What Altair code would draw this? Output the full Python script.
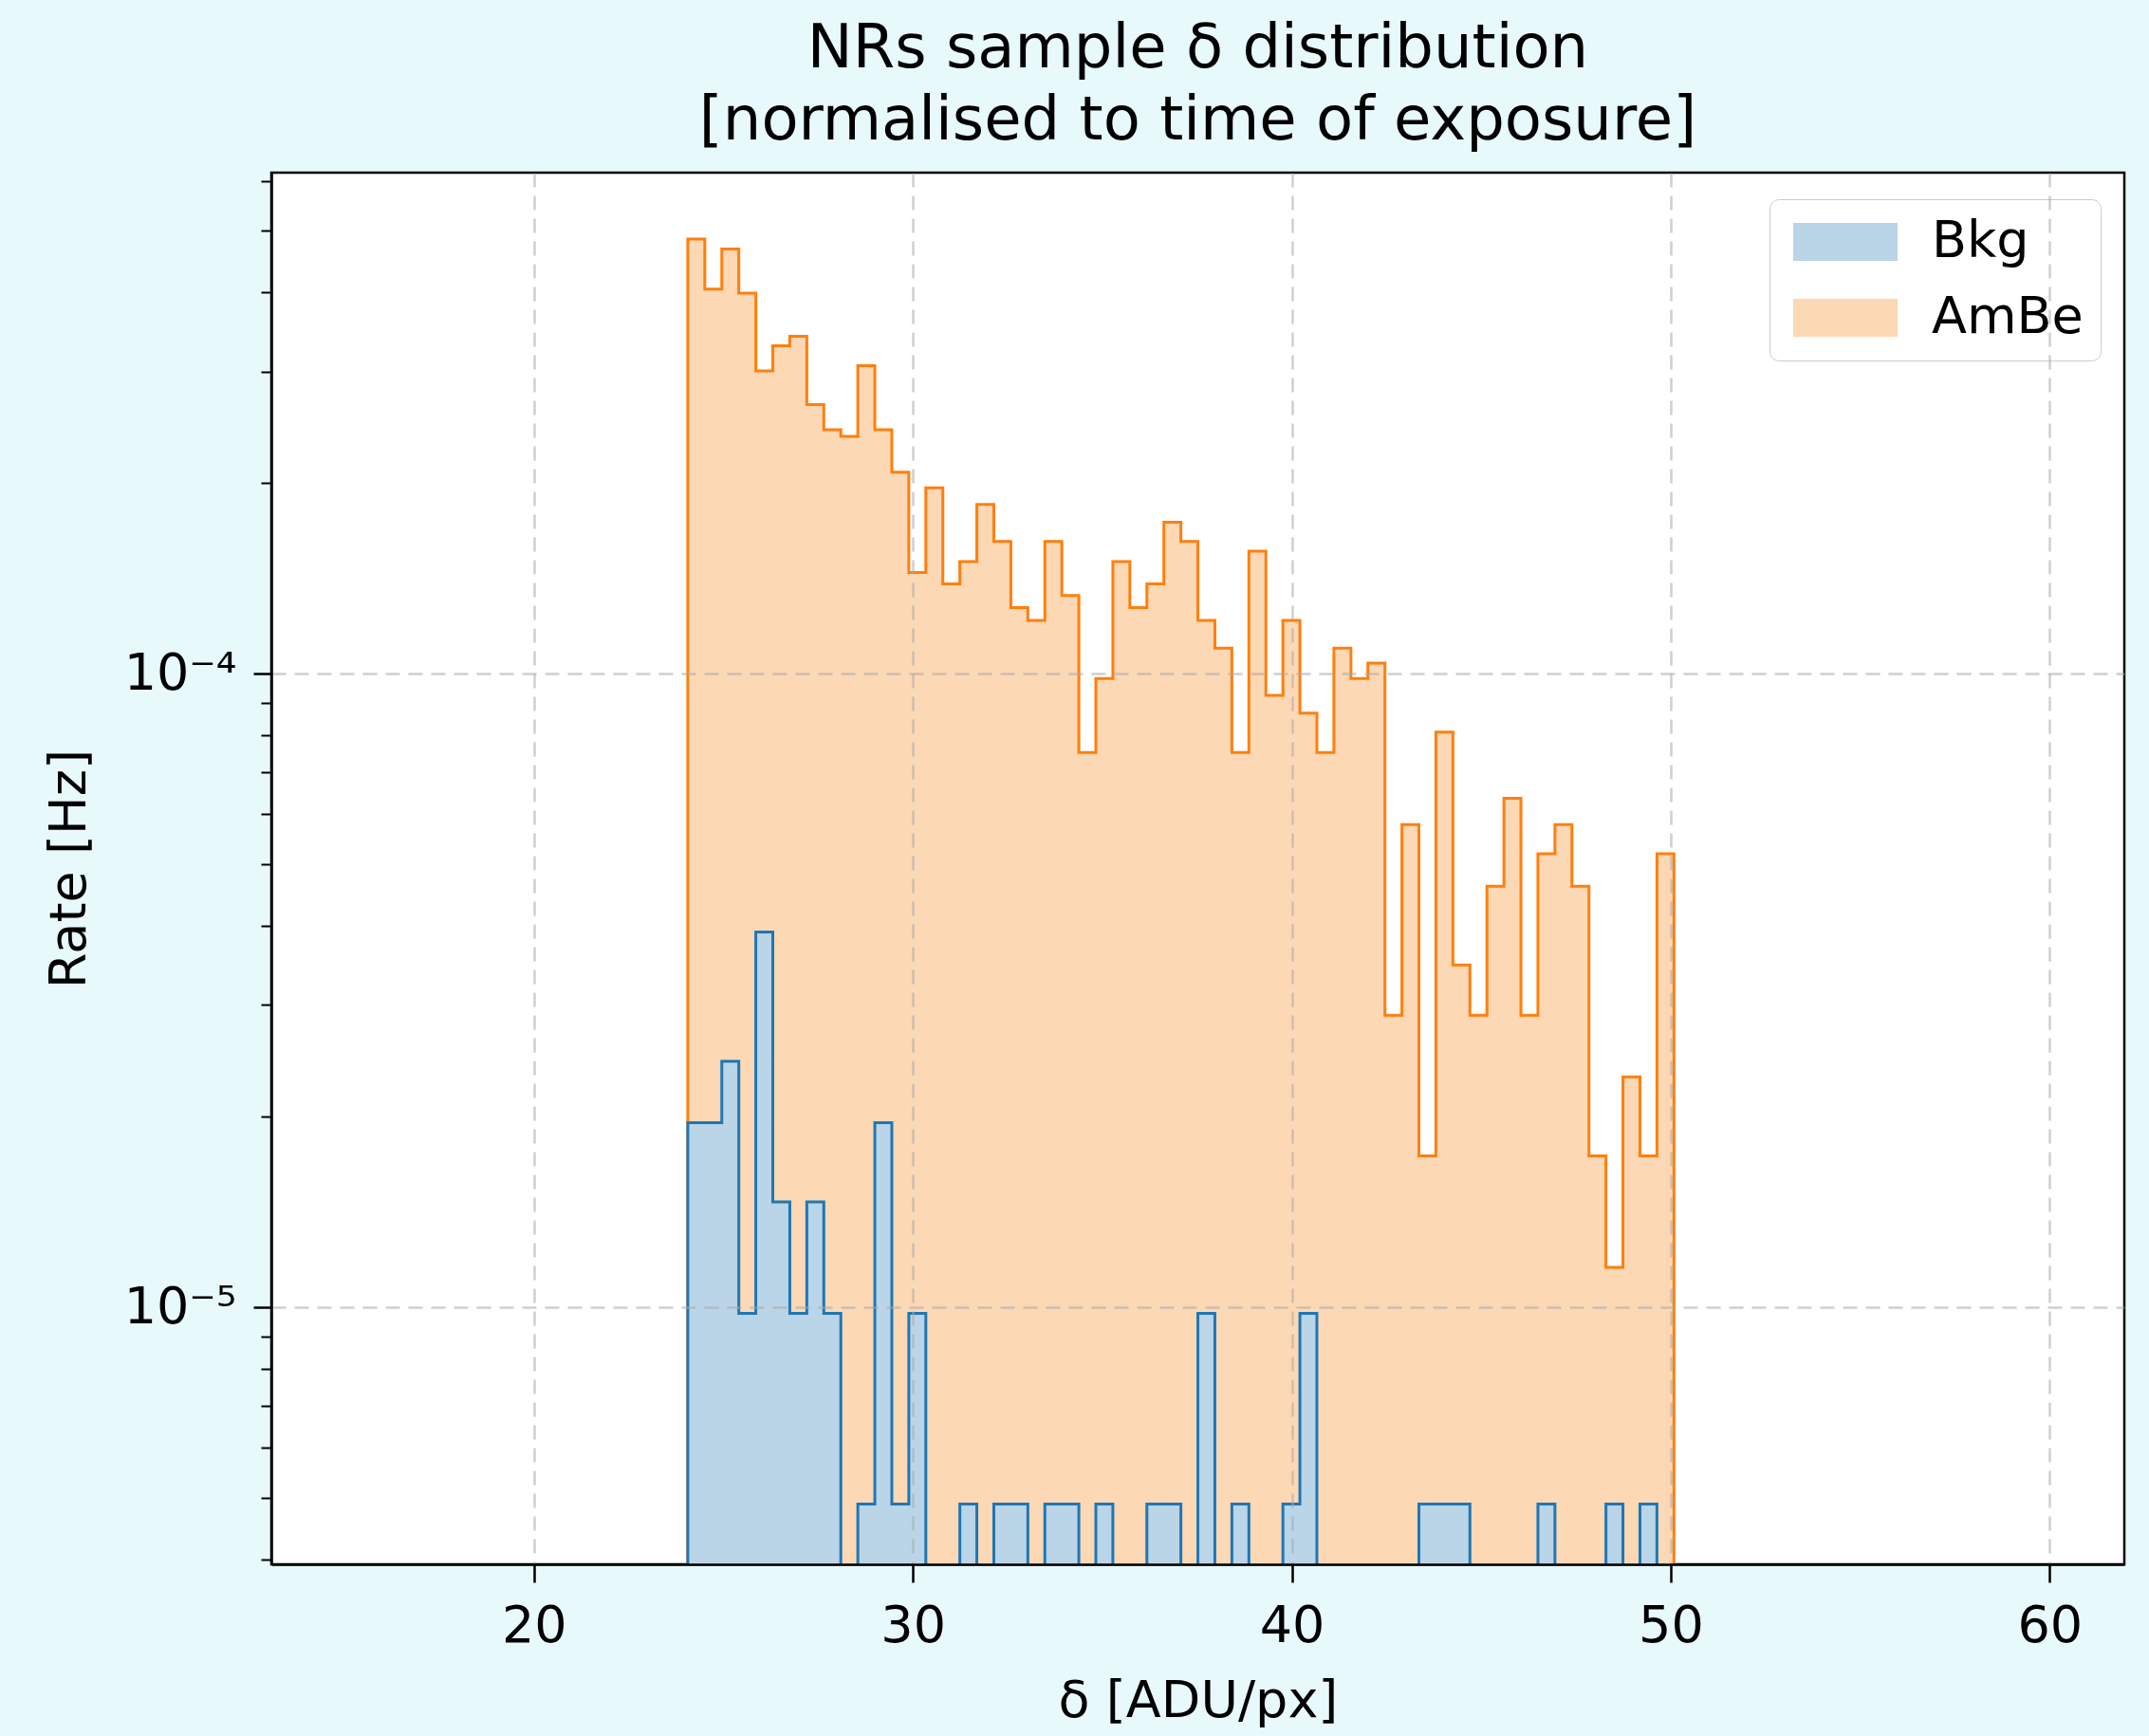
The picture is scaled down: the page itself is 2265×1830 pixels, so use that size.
import altair as alt
import numpy as np
import pandas as pd

# ---------------- data ----------------
TITLE = ["NRs sample δ distribution", "[normalised to time of exposure]"]
X_TITLE = "δ [ADU/px]"
Y_TITLE = "Rate [Hz]"
SERIES = ["Bkg", "AmBe"]

BIN_START = 24.06
BIN_WIDTH = 0.4487
N_BINS = 58

AMBE_RATE = [
    4.855e-4, 4.046e-4, 4.682e-4, 3.988e-4, 3.006e-4, 3.295e-4, 3.410e-4, 2.659e-4, 2.428e-4, 2.370e-4,
    3.063e-4, 2.428e-4, 2.081e-4, 1.445e-4, 1.965e-4, 1.387e-4, 1.503e-4, 1.850e-4, 1.618e-4, 1.272e-4,
    1.214e-4, 1.618e-4, 1.329e-4, 7.51e-5, 9.83e-5, 1.503e-4, 1.272e-4, 1.387e-4, 1.734e-4, 1.618e-4,
    1.214e-4, 1.098e-4, 7.51e-5, 1.561e-4, 9.25e-5, 1.214e-4, 8.67e-5, 7.51e-5, 1.098e-4, 9.83e-5,
    1.040e-4, 2.89e-5, 5.78e-5, 1.734e-5, 8.09e-5, 3.47e-5, 2.89e-5, 4.62e-5, 6.36e-5, 2.89e-5,
    5.20e-5, 5.78e-5, 4.62e-5, 1.734e-5, 1.156e-5, 2.31e-5, 1.734e-5, 5.20e-5,
]

BKG_RATE = [
    1.956e-5, 1.956e-5, 2.445e-5, 9.78e-6, 3.912e-5, 1.467e-5, 9.78e-6, 1.467e-5, 9.78e-6, 0,
    4.89e-6, 1.956e-5, 4.89e-6, 9.78e-6, 0, 0, 4.89e-6, 0, 4.89e-6, 4.89e-6,
    0, 4.89e-6, 4.89e-6, 0, 4.89e-6, 0, 0, 4.89e-6, 4.89e-6, 0,
    9.78e-6, 0, 4.89e-6, 0, 0, 4.89e-6, 9.78e-6, 0, 0, 0,
    0, 0, 0, 4.89e-6, 4.89e-6, 4.89e-6, 0, 0, 0, 0,
    4.89e-6, 0, 0, 0, 4.89e-6, 0, 4.89e-6, 0,
]

X_TICKS = [20, 30, 40, 50, 60]
Y_MAJOR = [1e-5, 1e-4]
Y_MINOR = [4e-6, 5e-6, 6e-6, 7e-6, 8e-6, 9e-6,
           2e-5, 3e-5, 4e-5, 5e-5, 6e-5, 7e-5, 8e-5, 9e-5,
           2e-4, 3e-4, 4e-4, 5e-4, 6e-4]
X_DOMAIN = [13.07, 61.97]
Y_DOMAIN = [3.93e-6, 6.18e-4]
FLOOR = 1e-9  # stands for empty bins in the outline (below the visible range, clipped)

# ---------------- styles ----------------
FONT = "DejaVu Sans"
BLUE_LINE = "#1f77b4"
ORANGE_LINE = "#ff7f0e"
BLUE_FILL = "#bad4e8"
ORANGE_FILL = "#fdd8b5"
BG = "#e7f9fb"
W, H = 1953, 1467

edges = BIN_START + BIN_WIDTH * np.arange(N_BINS + 1)


def bar_rows(name, vals):
    return [dict(series=name, x0=edges[i], x1=edges[i + 1], y=v)
            for i, v in enumerate(vals) if v > 0]


def line_rows(name, vals):
    rows = [dict(series=name, x=edges[0], y=FLOOR, i=0)]
    for i, v in enumerate(vals):
        rows.append(dict(series=name, x=edges[i], y=v if v > 0 else FLOOR, i=i + 1))
    rows.append(dict(series=name, x=edges[-1], y=FLOOR, i=len(vals) + 1))
    return rows


bar_df = pd.DataFrame(bar_rows("AmBe", AMBE_RATE) + bar_rows("Bkg", BKG_RATE))
line_df = pd.DataFrame(line_rows("AmBe", AMBE_RATE) + line_rows("Bkg", BKG_RATE))

GRID = dict(grid=True, gridColor="#a8a8a8", gridOpacity=0.55, gridDash=[15, 9], gridWidth=2.5)

x_axis = alt.Axis(values=X_TICKS, format="d", title=X_TITLE, tickSize=19, tickWidth=2.5,
                  tickColor="black", domain=True, domainColor="black", domainWidth=2.5,
                  labelFont=FONT, labelFontSize=54, labelColor="black", labelPadding=19,
                  titleFont=FONT, titleFontSize=54, titleFontWeight="normal", titleColor="black",
                  titlePadding=25, zindex=1, **GRID)

y_major = alt.Axis(values=Y_MAJOR, orient="left", title=Y_TITLE,
                   labelExpr="datum.value < 5e-5 ? '10⁻⁵' : '10⁻⁴'",
                   tickSize=19, tickWidth=2.5, tickColor="black", domain=True,
                   domainColor="black", domainWidth=2.5, labelFont=FONT, labelFontSize=54,
                   labelColor="black", labelPadding=18, titleFont=FONT, titleFontSize=54,
                   titleFontWeight="normal", titleColor="black", titlePadding=30, zindex=1, **GRID)

y_minor = alt.Axis(values=Y_MINOR, orient="left", title=None, labels=False, grid=False,
                   tickSize=11, tickWidth=2, tickColor="black", domain=False, zindex=1)

xs = alt.Scale(domain=X_DOMAIN, nice=False, zero=False)
ys = alt.Scale(type="log", domain=Y_DOMAIN, nice=False)

fill_scale = alt.Scale(domain=SERIES, range=[BLUE_FILL, ORANGE_FILL])
legend = alt.Legend(title=None, orient="none", legendX=1579, legendY=28,
                    fillColor="white", strokeColor="#cccccc", cornerRadius=10,
                    padding=18, symbolType="M-2.75,-1L2.75,-1L2.75,1L-2.75,1Z",
                    symbolSize=1600, symbolOffset=35, symbolStrokeWidth=0,
                    symbolOpacity=1, labelFont=FONT, labelFontSize=54,
                    labelColor="black", labelOffset=64, rowPadding=26)


def bar_layer(name, y_axis):
    return alt.Chart(bar_df).transform_filter(alt.datum.series == name).mark_rect(
        clip=True, opacity=1, strokeWidth=1.2
    ).encode(
        x=alt.X("x0:Q", scale=xs, axis=x_axis),
        x2="x1:Q",
        y=alt.Y("y:Q", scale=ys, axis=y_axis),
        y2=alt.value(H),
        fill=alt.Fill("series:N", scale=fill_scale, legend=legend),
        stroke=alt.Stroke("series:N", scale=fill_scale, legend=None),
    )


def line_layer(name, stroke, y_axis):
    return alt.Chart(line_df).transform_filter(alt.datum.series == name).mark_line(
        interpolate="step-after", clip=True, strokeWidth=3, color=stroke
    ).encode(
        x=alt.X("x:Q", scale=xs, axis=x_axis),
        y=alt.Y("y:Q", scale=ys, axis=y_axis),
        order=alt.Order("i:Q"),
    )


chart = alt.layer(
    bar_layer("AmBe", y_major),
    line_layer("AmBe", ORANGE_LINE, None),
    bar_layer("Bkg", None),
    line_layer("Bkg", BLUE_LINE, y_minor),
).resolve_axis(y="independent").properties(
    width=W, height=H,
    title=alt.TitleParams(text=TITLE, font=FONT, fontSize=64, fontWeight="normal", color="black",
                          anchor="middle", frame="group", offset=22, lineHeight=76),
    autosize=alt.AutoSizeParams(type="none"),
    padding={"left": 286, "top": 182, "right": 26, "bottom": 181},
    background=BG,
).configure_view(stroke="black", strokeWidth=2.5, fill="white")

chart.save("out.html", embed_options={"renderer": "svg", "actions": False})
